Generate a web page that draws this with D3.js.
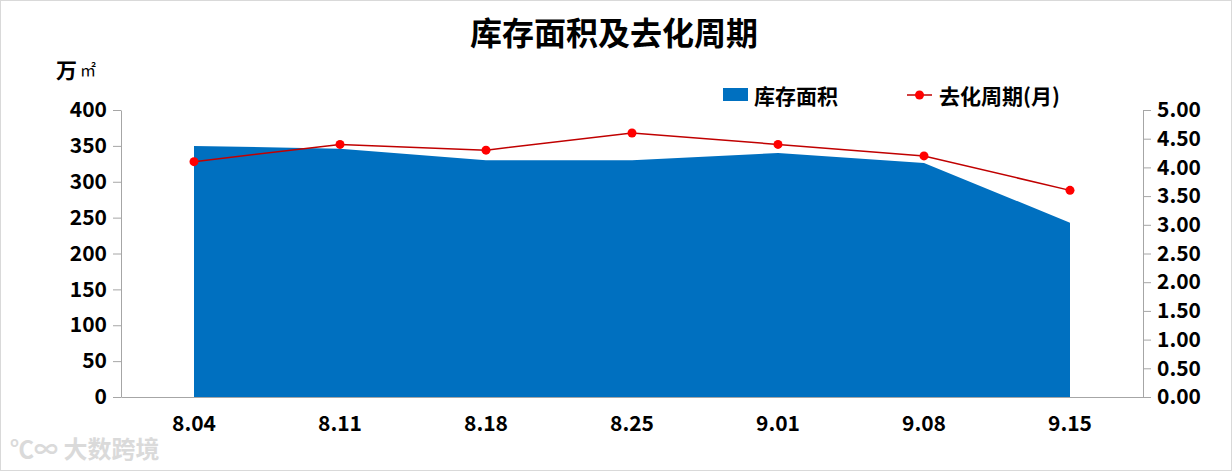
<!DOCTYPE html>
<html>
<head>
<meta charset="utf-8">
<script src="https://cdnjs.cloudflare.com/ajax/libs/d3/7.8.5/d3.min.js"></script>
<style>
	body { margin: 0; background: #fff; }
	text { font-family: "Noto Sans CJK SC", "Microsoft YaHei", sans-serif; font-weight: bold; fill: #000; }
	.axis path, .axis line { stroke: #a6a6a6; }
</style>
</head>
<body>
<svg id="chart" width="1232" height="471"></svg>
<script>
// data
var dates = ['8.04', '8.11', '8.18', '8.25', '9.01', '9.08', '9.15'];
var stock = [350, 346, 330, 330, 340, 326, 243];      // 库存面积 (万㎡)
var cycle = [4.1, 4.4, 4.3, 4.6, 4.4, 4.2, 3.6];      // 去化周期 (月)
var leftTicks = [0, 50, 100, 150, 200, 250, 300, 350, 400];
var rightTicks = [0, 0.5, 1, 1.5, 2, 2.5, 3, 3.5, 4, 4.5, 5];

var svg = d3.select('#chart');
var margin = { left: 121, right: 89, top: 110, bottom: 74 };
var W = 1232, H = 471;

svg.append('rect')
	.attr('x', 0.5).attr('y', 0.5)
	.attr('width', W - 1).attr('height', H - 1)
	.attr('fill', '#fff').attr('stroke', '#d9d9d9');

var x = d3.scaleBand().domain(dates).range([margin.left, W - margin.right]).padding(0);
var yL = d3.scaleLinear().domain([0, 400]).range([H - margin.bottom, margin.top]);
var yR = d3.scaleLinear().domain([0, 5]).range([H - margin.bottom, margin.top]);
var cx = function(d) { return x(d) + x.bandwidth() / 2; };

// area
var area = d3.area()
	.x(function(d, i) { return cx(dates[i]); })
	.y0(yL(0))
	.y1(function(d) { return yL(d); });
svg.append('path')
	.datum(stock)
	.attr('d', area)
	.attr('fill', '#0070c0');

// axes
var gl = svg.append('g').attr('class', 'axis')
	.attr('transform', 'translate(' + margin.left + ',0)')
	.call(d3.axisLeft(yL).tickValues(leftTicks).tickSize(8).tickSizeOuter(0).tickPadding(6));
var gr = svg.append('g').attr('class', 'axis')
	.attr('transform', 'translate(' + (W - margin.right) + ',0)')
	.call(d3.axisRight(yR).tickValues(rightTicks).tickSize(8).tickSizeOuter(0).tickPadding(6)
		.tickFormat(d3.format('.2f')));
var gb = svg.append('g').attr('class', 'axis')
	.attr('transform', 'translate(0,' + yL(0) + ')')
	.call(d3.axisBottom(x).tickSize(0).tickPadding(19));
svg.selectAll('.axis text').style('font-size', '21px').style('font-family', '"Noto Sans CJK SC", sans-serif').style('font-weight', 'bold');
svg.selectAll('.axis .domain').attr('stroke', '#a6a6a6');

// line
var line = d3.line()
	.x(function(d, i) { return cx(dates[i]); })
	.y(function(d) { return yR(d); });
svg.append('path')
	.datum(cycle)
	.attr('d', line)
	.attr('fill', 'none')
	.attr('stroke', '#c00000')
	.attr('stroke-width', 1.5);
svg.selectAll('.dot')
	.data(cycle)
	.enter().append('circle')
	.attr('class', 'dot')
	.attr('cx', function(d, i) { return cx(dates[i]); })
	.attr('cy', function(d) { return yR(d); })
	.attr('r', 4.5)
	.attr('fill', '#ff0000');

// title and unit
svg.append('text').attr('x', 614).attr('y', 45).attr('text-anchor', 'middle')
	.style('font-size', '32px').text('库存面积及去化周期');
svg.append('text').attr('x', 56).attr('y', 78).style('font-size', '21px').text('万');
svg.append('text').attr('x', 80).attr('y', 76).style('font-size', '16px').style('font-weight', 'normal').text('㎡');

// legend
svg.append('rect').attr('x', 723).attr('y', 88).attr('width', 25).attr('height', 13).attr('fill', '#0070c0');
svg.append('text').attr('x', 754).attr('y', 104).style('font-size', '21px').text('库存面积');
svg.append('line').attr('x1', 907).attr('x2', 932).attr('y1', 95).attr('y2', 95)
	.attr('stroke', '#c00000').attr('stroke-width', 1.5);
svg.append('circle').attr('cx', 919.5).attr('cy', 95).attr('r', 4.5).attr('fill', '#ff0000');
svg.append('text').attr('x', 939).attr('y', 104).style('font-size', '21px').text('去化周期(月)');

// watermark
svg.append('text').attr('x', 10).attr('y', 458).style('font-size', '24px')
	.style('fill', '#dadada').text('℃∞ 大数跨境');
</script>
</body>
</html>
